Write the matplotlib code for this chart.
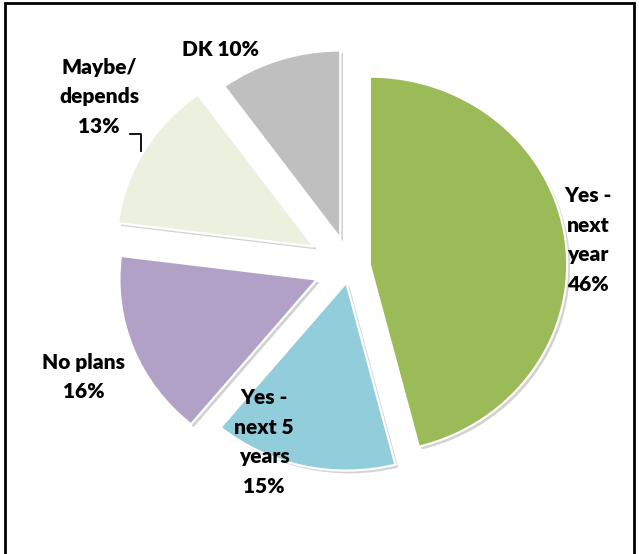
import matplotlib
matplotlib.use("Agg")
import matplotlib.pyplot as plt
import matplotlib.patheffects as pe

# ---- data ----
categories = ["Yes -\nnext\nyear", "Yes -\nnext 5\nyears", "No plans", "Maybe/\ndepends", "DK"]
values = [46, 15, 16, 13, 10]
separators = ["\n", "\n", "\n", "\n", " "]
colors = ["#9BBB59", "#92CDDC", "#B2A1C7", "#EBF1DE", "#BFBFBF"]

# ---- layout / style ----
W, H = 639, 554
SX = 1.05                      # the original chart is slightly stretched horizontally


def px(x, y):
    """screen pixel position -> data coordinates"""
    return x / SX, H - y


center = px(350, 267)
radius = 188
explode_px = [19, 16, 34, 40, 30]
label_pos = [px(588, 240), px(264, 442), px(84, 377), px(99, 97), px(221, 50)]

fig = plt.figure(figsize=(W / 100, H / 100), dpi=100)
ax = fig.add_axes([0, 0, 1, 1])

wedges, _ = ax.pie(values, explode=explode_px, colors=colors, startangle=90,
                   counterclock=False, center=center, radius=radius,
                   wedgeprops=dict(edgecolor="white", linewidth=1.6))
for w in wedges:
    w.set_path_effects([pe.SimplePatchShadow(offset=(2, -2), shadow_rgbFace="#808080", alpha=0.35),
                        pe.Normal()])

ax.set_aspect("auto")
ax.set_xlim(0, W / SX)
ax.set_ylim(0, H)
ax.axis("off")

for cat, val, sep, (x, y) in zip(categories, values, separators, label_pos):
    ax.text(x, y, f"{cat}{sep}{val}%", ha="center", va="center", fontsize=15,
            fontweight="heavy", family="Lato", linespacing=1.65, color="black")

# leader line for Maybe/depends
lx, ly = zip(px(130, 134), px(141, 134), px(141, 151))
ax.plot(lx, ly, color="black", lw=1.3)

# frame
fx, fy = zip(px(5, H), px(5, 3), px(634, 3), px(634, H))
ax.plot(fx, fy, color="black", lw=2, solid_joinstyle="miter")

fig.savefig("out.png", dpi=100)
